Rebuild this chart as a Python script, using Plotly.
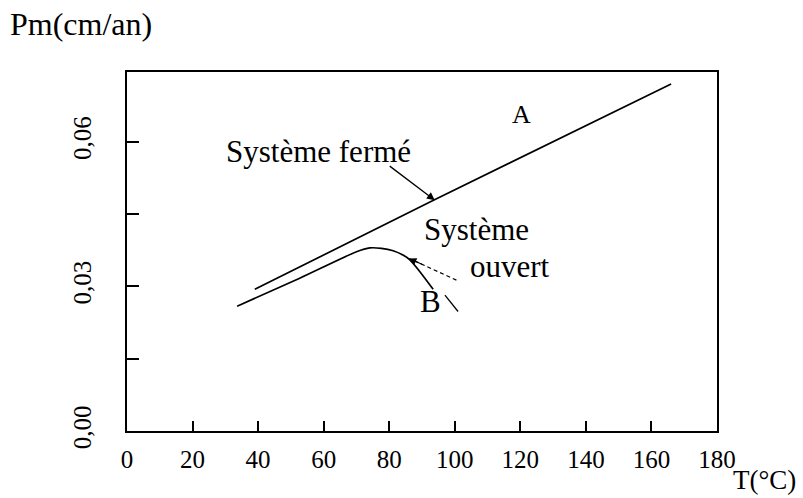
import plotly.graph_objects as go

# Data
T_fermé = [39.0, 93.5, 166.0]
Pm_fermé = [0.0294, 0.0479, 0.0720]

T_ouvert = [33.6, 52.7, 70.0, 74.1, 77.6, 81.2, 84.2, 86.3, 89.3, 93.4]
Pm_ouvert = [0.0259, 0.0317, 0.0372, 0.0380, 0.0379, 0.0374, 0.0365, 0.0355, 0.0331, 0.0294]

T_trait_B = [97.0, 101.0]
Pm_trait_B = [0.0282, 0.0248]

x_ticks = [0, 20, 40, 60, 80, 100, 120, 140, 160, 180]
x_ticktext = ["0", "20", "40", "60", "80", "100", "120", "140", "160", "180"]
y_ticks = [0.0, 0.015, 0.03, 0.045, 0.06]
y_ticktext = ["0,00", "", "0,03", "", "0,06"]

# arrow (tail -> head) in data units
fleche_fermé = {"tail": (79.7, 0.0552), "head": (93.9, 0.0479)}
fleche_ouvert = {"tail": (100.5, 0.0313), "head": (86.1, 0.0358)}

FONT = "Liberation Serif, Times New Roman, serif"

fig = go.Figure()
fig.add_trace(go.Scatter(x=T_fermé, y=Pm_fermé, mode="lines", line=dict(color="black", width=1.7), showlegend=False))
fig.add_trace(go.Scatter(x=T_ouvert, y=Pm_ouvert, mode="lines",
                         line=dict(color="black", width=1.7, shape="spline", smoothing=0.6), showlegend=False))
fig.add_trace(go.Scatter(x=T_trait_B, y=Pm_trait_B, mode="lines", line=dict(color="black", width=1.3), showlegend=False))

# dashed shaft for "ouvert" arrow
fig.add_trace(go.Scatter(x=[fleche_ouvert["tail"][0], fleche_ouvert["head"][0]],
                         y=[fleche_ouvert["tail"][1], fleche_ouvert["head"][1]],
                         mode="lines", line=dict(color="black", width=1.2, dash="4px,3px"), showlegend=False))

annots = []
annots.append(dict(x=fleche_fermé["head"][0], y=fleche_fermé["head"][1], ax=fleche_fermé["tail"][0], ay=fleche_fermé["tail"][1],
                   xref="x", yref="y", axref="x", ayref="y", showarrow=True, arrowhead=2, arrowsize=1.2, arrowwidth=1.3,
                   arrowcolor="black", text=""))
hx, hy = fleche_ouvert["head"]
tx, ty = fleche_ouvert["tail"]
annots.append(dict(x=hx, y=hy, ax=hx + (tx - hx) * 0.3, ay=hy + (ty - hy) * 0.3,
                   xref="x", yref="y", axref="x", ayref="y", showarrow=True, arrowhead=2, arrowsize=1.2, arrowwidth=1.2,
                   arrowcolor="black", text=""))


def txt(x, y, s, size, **kw):
    d = dict(x=x, y=y, text=s, showarrow=False, font=dict(family=FONT, size=size, color="black"))
    d.update(kw)
    annots.append(d)


txt(58.5, 0.0579, "Système fermé", 31, xref="x", yref="y")
txt(106.6, 0.0419, "Système", 31, xref="x", yref="y")
txt(116.8, 0.0341, "ouvert", 31, xref="x", yref="y")
txt(120.3, 0.0656, "A", 26, xref="x", yref="y")
txt(92.6, 0.0268, "B", 31, xref="x", yref="y")
txt(-0.201, 1.133, "Pm(cm/an)", 32, xref="paper", yref="paper", xanchor="left", yanchor="middle")
txt(1.138, -0.184, "T(°C)", 27, xref="paper", yref="paper", xanchor="right", yanchor="bottom")

fig.update_layout(
    width=803, height=498,
    margin=dict(l=127, r=86, t=72, b=67),
    paper_bgcolor="white", plot_bgcolor="white",
    annotations=annots,
    font=dict(family=FONT, color="black"),
)
fig.update_xaxes(range=[0, 180], tickvals=x_ticks, ticktext=x_ticktext, ticks="inside", ticklen=10, tickwidth=1.5,
                 tickcolor="black", showline=True, linecolor="black", linewidth=2, mirror=True, showgrid=False,
                 zeroline=False, tickfont=dict(family=FONT, size=25), ticklabelstandoff=5)
fig.update_yaxes(range=[0, 0.0745], tickvals=y_ticks, ticktext=y_ticktext, ticks="inside", ticklen=12, tickwidth=1.5,
                 tickcolor="black", showline=True, linecolor="black", linewidth=2, mirror=True, showgrid=False,
                 zeroline=False, tickangle=-90, tickfont=dict(family=FONT, size=25), ticklabelstandoff=24)

fig.write_html("out.html", config={"displayModeBar": False},
               post_script="document.body.style.margin='0';document.body.style.overflow='hidden';")
